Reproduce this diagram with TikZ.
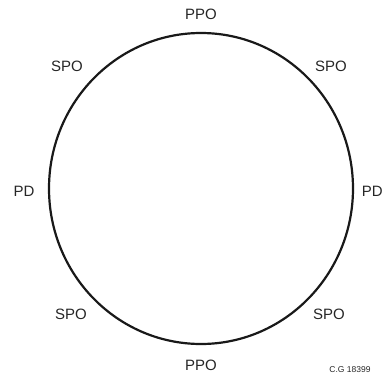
\documentclass[tikz,border=0pt]{standalone}
\usepackage{fontspec}
\setmainfont{Liberation Sans}
\usetikzlibrary{positioning}
\tikzset{lbl/.style={font=\fontsize{15}{18}\selectfont,text=black!85,inner sep=0pt},ring/.style={draw=black!90,line width=2.2pt},tag/.style={font=\fontsize{8.5}{10}\selectfont,text=black!85,inner sep=0pt}}

\begin{document}
\begin{tikzpicture}[x=1pt,y=-1pt]
\useasboundingbox (0,0) rectangle (384,378);
\draw[ring] (201,188.5) ellipse [x radius=152, y radius=155.5];
\node[lbl] (ppotop) at (201,14) {PPO};
\node[lbl] (ppobot) at (201,365.5) {PPO};
\node[lbl] (spotl) at (67,66) {SPO};
\node[lbl] (spotr) at (331,66) {SPO};
\node[lbl] (spobl) at (71,314) {SPO};
\node[lbl] (spobr) at (329,314) {SPO};
\node[lbl] (pdl) at (24,191) {PD};
\node[lbl,anchor=east] (pdr) at (383,191) {PD};
\node[tag] (code) at (350,370) {C.G 18399};
\end{tikzpicture}
\end{document}
